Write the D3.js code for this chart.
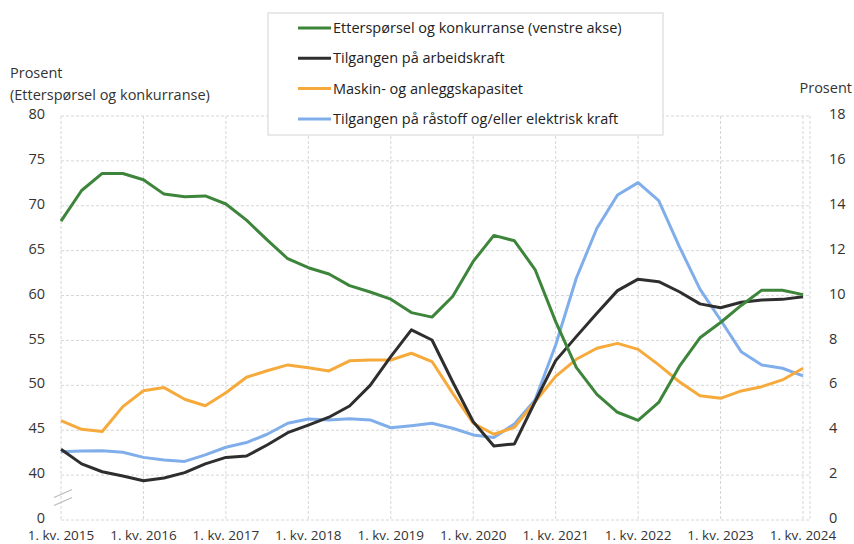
<!DOCTYPE html>
<html lang="no">
<head>
<meta charset="UTF-8">
<title>Produksjonsbegrensninger</title>
<script src="https://d3js.org/d3.v7.min.js"></script>
<style>
  body { margin: 0; background: #fff; }
  svg { display: block; font-family: "Open Sans", sans-serif; }
  .tick-label { font-size: 14.5px; fill: #333; }
  .x-label { font-size: 13.5px; fill: #333; }
  .axis-title { font-size: 14.5px; fill: #333; }
  .legend-text { font-size: 14.5px; fill: #222; }
  .grid { stroke: #d6d6d6; stroke-width: 1; stroke-dasharray: 3,2; }
</style>
</head>
<body>
<svg id="chart" width="854" height="544"></svg>
<script>
// quarters 1. kv. 2015 .. 1. kv. 2024
const quarters = d3.range(2015, 2025).flatMap(y => [1, 2, 3, 4].map(q => y + "Q" + q)).slice(0, 37);
const yearLabels = ["1. kv. 2015", "1. kv. 2016", "1. kv. 2017", "1. kv. 2018", "1. kv. 2019",
  "1. kv. 2020", "1. kv. 2021", "1. kv. 2022", "1. kv. 2023", "1. kv. 2024"];

// left axis (venstre akse)
const etterspørsel = [68.3, 71.7, 73.6, 73.6, 72.9, 71.3, 71.0, 71.1, 70.2, 68.4, 66.2, 64.1, 63.1,
  62.4, 61.1, 60.4, 59.6, 58.1, 57.6, 59.9, 63.8, 66.7, 66.1, 62.9, 57.1, 52.0, 49.0, 47.0, 46.1,
  48.1, 52.1, 55.3, 57.0, 58.9, 60.6, 60.6, 60.1];
// right axis
const arbeidskraft = [3.15, 2.5, 2.15, 1.96, 1.75, 1.87, 2.11, 2.5, 2.79, 2.85, 3.34, 3.89, 4.23,
  4.58, 5.08, 6.0, 7.28, 8.47, 8.02, 6.16, 4.38, 3.3, 3.39, 5.27, 7.1, 8.17, 9.21, 10.22, 10.73,
  10.62, 10.17, 9.63, 9.46, 9.7, 9.8, 9.83, 9.95];
const maskin = [4.43, 4.04, 3.94, 5.05, 5.76, 5.9, 5.38, 5.09, 5.67, 6.36, 6.65, 6.91, 6.78,
  6.64, 7.09, 7.13, 7.13, 7.43, 7.06, 5.65, 4.31, 3.82, 4.13, 5.27, 6.4, 7.16, 7.65, 7.87, 7.6,
  6.91, 6.16, 5.54, 5.42, 5.75, 5.94, 6.24, 6.76];
const råstoff = [3.04, 3.07, 3.08, 3.02, 2.79, 2.67, 2.61, 2.9, 3.24, 3.45, 3.82, 4.31, 4.5,
  4.46, 4.51, 4.46, 4.11, 4.2, 4.31, 4.09, 3.79, 3.68, 4.28, 5.35, 7.8, 10.77, 13.0, 14.48, 15.03,
  14.23, 12.18, 10.29, 8.91, 7.5, 6.91, 6.76, 6.42];

const seriesNames = ["Etterspørsel og konkurranse (venstre akse)", "Tilgangen på arbeidskraft",
  "Maskin- og anleggskapasitet", "Tilgangen på råstoff og/eller elektrisk kraft"];
const seriesColors = ["#3d853b", "#2e2e2e", "#f7aa3c", "#80aeea"];

// left axis has a break: the bottom tick is 0, the rest run 40..80
const leftTicks = [35, 40, 45, 50, 55, 60, 65, 70, 75, 80];
const leftTickLabels = ["0", "40", "45", "50", "55", "60", "65", "70", "75", "80"];
const rightTicks = [0, 2, 4, 6, 8, 10, 12, 14, 16, 18];

const svg = d3.select("#chart");
const plotLeft = 61, plotRight = 810, plotTop = 116, plotBottom = 520;

const x = d3.scalePoint().domain(quarters).range([plotLeft, 803]);
const yL = d3.scaleLinear().domain([35, 80]).range([plotBottom, plotTop]);
const yR = d3.scaleLinear().domain([0, 18]).range([plotBottom, plotTop]);

// gridlines
svg.append("g").selectAll("line").data(leftTicks).join("line")
  .attr("class", "grid")
  .attr("x1", plotLeft).attr("x2", plotRight)
  .attr("y1", d => yL(d)).attr("y2", d => yL(d));
const yearQuarters = quarters.filter(q => q.endsWith("Q1"));
svg.append("g").selectAll("line").data(yearQuarters).join("line")
  .attr("class", "grid")
  .attr("x1", d => x(d)).attr("x2", d => x(d))
  .attr("y1", plotTop).attr("y2", plotBottom);
svg.append("line").attr("class", "grid")
  .attr("x1", plotRight).attr("x2", plotRight).attr("y1", plotTop).attr("y2", plotBottom);

// axis break marks
const yb = yL(37.5);
[-4, 4].forEach(o => {
  svg.append("line")
    .attr("x1", plotLeft - 7).attr("y1", yb + o + 4)
    .attr("x2", plotLeft + 11).attr("y2", yb + o - 4)
    .attr("stroke", "#bbb").attr("stroke-width", 1.2);
});

// tick labels
svg.append("g").selectAll("text").data(leftTicks).join("text")
  .attr("class", "tick-label")
  .attr("x", 45).attr("y", d => yL(d) - 2).attr("dy", "0.35em")
  .attr("text-anchor", "end")
  .text((d, i) => leftTickLabels[i]);
svg.append("g").selectAll("text").data(rightTicks).join("text")
  .attr("class", "tick-label")
  .attr("x", 829).attr("y", d => yR(d) - 2).attr("dy", "0.35em")
  .text(d => d);
svg.append("g").selectAll("text").data(yearQuarters).join("text")
  .attr("class", "x-label")
  .attr("x", d => x(d)).attr("y", 540)
  .attr("text-anchor", "middle")
  .text((d, i) => yearLabels[i]);

// axis titles
svg.append("text").attr("class", "axis-title").attr("x", 10).attr("y", 78).text("Prosent");
svg.append("text").attr("class", "axis-title").attr("x", 10).attr("y", 100).text("(Etterspørsel og konkurranse)");
svg.append("text").attr("class", "axis-title").attr("x", 852).attr("y", 93)
  .attr("text-anchor", "end").text("Prosent");

// lines
const lineL = d3.line().x((d, i) => x(quarters[i])).y(d => yL(d));
const lineR = d3.line().x((d, i) => x(quarters[i])).y(d => yR(d));
const drawn = [[råstoff, lineR, 3], [maskin, lineR, 2], [arbeidskraft, lineR, 1], [etterspørsel, lineL, 0]];
drawn.forEach(([vals, gen, c]) => {
  svg.append("path")
    .attr("d", gen(vals))
    .attr("fill", "none")
    .attr("stroke", seriesColors[c])
    .attr("stroke-width", 3)
    .attr("stroke-linejoin", "round");
});

// legend
const lg = svg.append("g");
lg.append("rect").attr("x", 268).attr("y", 13).attr("width", 395).attr("height", 122)
  .attr("fill", "#fff").attr("stroke", "#d4d4d4");
seriesNames.forEach((name, i) => {
  const ly = 28 + i * 30.3;
  lg.append("line").attr("x1", 298).attr("x2", 331).attr("y1", ly).attr("y2", ly)
    .attr("stroke", seriesColors[i]).attr("stroke-width", 3);
  lg.append("text").attr("class", "legend-text")
    .attr("x", 333).attr("y", ly).attr("dy", "0.35em").text(name);
});
</script>
</body>
</html>
